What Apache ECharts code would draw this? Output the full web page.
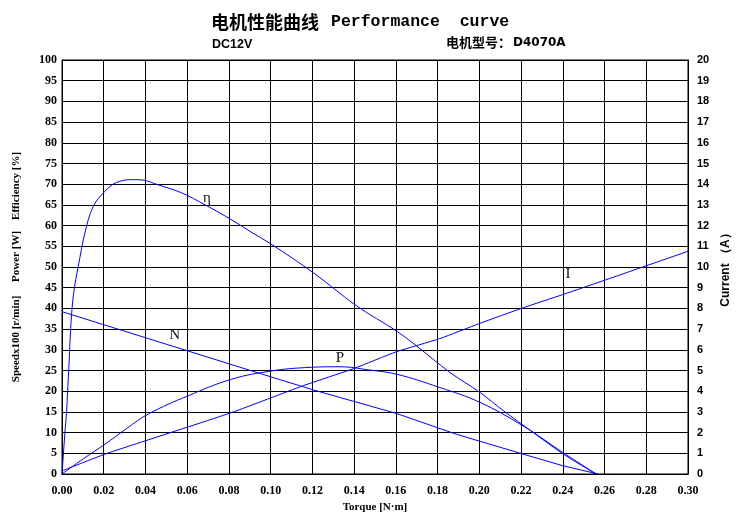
<!DOCTYPE html>
<html>
<head>
<meta charset="utf-8">
<script src="https://cdn.jsdelivr.net/npm/echarts@6/dist/echarts.min.js"></script>
<style>html,body{margin:0;padding:0;background:#fff;}#c{width:741px;height:518px;}</style>
</head>
<body>
<div id="c"></div>
<script>
// Torque [N·m] vs value
const effData = [[0,0],[0.0007,5],[0.0014,10],[0.0022,15],[0.0027,20],[0.0034,27],[0.0043,36.5],[0.0054,43],[0.0066,47],[0.0078,50.2],[0.011,58.3],[0.015,64.7],[0.0206,68.3],[0.026,70.4],[0.0334,71.1],[0.04,70.9],[0.0446,70.1],[0.0574,67.9],[0.0686,65],[0.0796,61.9],[0.0901,58.6],[0.1,55.6],[0.1205,48.6],[0.1412,40.6],[0.1604,34.5],[0.17,30.9],[0.186,24.5],[0.2003,19.7],[0.2115,15.3],[0.2259,10],[0.2403,4.8],[0.256,0]];
const speedData = [[0,39.2],[0.0605,29.7],[0.0909,24.9],[0.1205,20.3],[0.1604,14.6],[0.189,9.6],[0.221,4.8],[0.24,2.0],[0.257,0]];
const powerData = [[0,0],[0.0103,3.7],[0.0206,7.2],[0.031,11],[0.0414,14.5],[0.0605,18.9],[0.0813,22.9],[0.1005,24.9],[0.1165,25.7],[0.1332,25.9],[0.1476,25.1],[0.1604,24.1],[0.181,20.9],[0.2003,17.3],[0.221,11.6],[0.24,5.2],[0.256,0]];
const currentData = [[0,0.15],[0.0206,0.96],[0.0398,1.6],[0.0813,2.97],[0.1157,4.27],[0.1397,5.09],[0.1604,5.91],[0.181,6.54],[0.2003,7.28],[0.221,8.03],[0.24,8.67],[0.2626,9.45],[0.30,10.76]];
const curveLabels = [
  {name:'η', coord:[0.0695,66.7], axis:0},
  {name:'N', coord:[0.054,33.5], axis:0},
  {name:'P', coord:[0.1332,28], axis:0},
  {name:'I', coord:[0.2425,9.64], axis:1}
];
const titleMain = '电机性能曲线';
const titleEn = 'Performance  curve';
const subLeft = 'DC12V';
const subRightCn = '电机型号：';
const subRightModel = 'D4070A';
const xName = 'Torque [N·m]';
const yLeftName = 'Speedx100 [r/min]     Power [W]    Efficiency [%]';
const yRightName = 'Current （A）';

const chart = echarts.init(document.getElementById('c'));
const lineStyle = {color:'#0000ff', width:1};
function mp(idx){
  const l = curveLabels[idx];
  return {symbol:'circle', symbolSize:0, silent:true,
    label:{show:true, formatter:l.name, color:'#111', fontFamily:'Liberation Serif', fontSize:15, position:'inside'},
    data:[{coord:l.coord}]};
}
chart.setOption({
  animation:false,
  backgroundColor:'#fff',
  title:[
    {text:'{cn|'+titleMain+'}{sp| }{en|'+titleEn+'}', left:206, top:8,
      textStyle:{rich:{
        cn:{fontFamily:'Noto Sans CJK SC', fontWeight:'bold', fontSize:18, color:'#000'},
        sp:{fontSize:16, width:12},
        en:{fontFamily:'Liberation Mono', fontWeight:'bold', fontSize:16.5, color:'#000'}}}},
    {text:subLeft, left:207, top:33, textStyle:{fontFamily:'Liberation Sans', fontWeight:'bold', fontSize:12.5, color:'#000'}},
    {text:'{cn|'+subRightCn+'}{sp| }{m|'+subRightModel+'}', left:441, top:31,
      textStyle:{rich:{
        cn:{fontFamily:'Noto Sans CJK SC', fontWeight:'bold', fontSize:13, color:'#000'},
        sp:{fontSize:12, width:2},
        m:{fontFamily:'DejaVu Sans', fontWeight:'bold', fontSize:12, color:'#000'}}}}
  ],
  grid:{left:62, right:53, top:60, bottom:43, show:true, borderColor:'#000', borderWidth:1},
  xAxis:{type:'value', min:0, max:0.3, interval:0.02,
    name:xName, nameLocation:'middle', nameGap:28,
    nameTextStyle:{fontFamily:'Liberation Serif', fontWeight:'bold', fontSize:11, color:'#000'},
    axisLine:{lineStyle:{color:'#000'}}, axisTick:{show:false},
    axisLabel:{formatter:v=>v.toFixed(2), margin:11, fontFamily:'Liberation Serif', fontWeight:'bold', fontSize:12, color:'#000'},
    splitLine:{lineStyle:{color:'#000', width:1}}},
  yAxis:[
    {type:'value', min:0, max:100, interval:5,
      name:yLeftName, nameLocation:'middle', nameGap:40, nameRotate:90,
      nameTextStyle:{fontFamily:'Liberation Serif', fontWeight:'bold', fontSize:11, color:'#000'},
      axisLine:{show:true, lineStyle:{color:'#000'}}, axisTick:{show:false},
      axisLabel:{margin:5, fontFamily:'Liberation Serif', fontWeight:'bold', fontSize:12, color:'#000'},
      splitLine:{lineStyle:{color:'#000', width:1}}},
    {type:'value', min:0, max:20, interval:1, position:'right',
      name:yRightName, nameLocation:'middle', nameGap:31, nameRotate:90,
      nameTextStyle:{fontFamily:'Liberation Sans', fontWeight:'bold', fontSize:12, color:'#000'},
      axisLine:{show:true, lineStyle:{color:'#000'}}, axisTick:{show:false},
      axisLabel:{margin:9, fontFamily:'Liberation Sans', fontWeight:'bold', fontSize:11, color:'#000'},
      splitLine:{show:false}}
  ],
  series:[
    {type:'line', name:'η', data:effData, yAxisIndex:0, showSymbol:false, smooth:0.35, lineStyle, markPoint:mp(0)},
    {type:'line', name:'N', data:speedData, yAxisIndex:0, showSymbol:false, smooth:false, lineStyle, markPoint:mp(1)},
    {type:'line', name:'P', data:powerData, yAxisIndex:0, showSymbol:false, smooth:0.4, lineStyle, markPoint:mp(2)},
    {type:'line', name:'I', data:currentData, yAxisIndex:1, showSymbol:false, smooth:0.2, lineStyle, markPoint:mp(3)}
  ]
});
</script>
</body>
</html>
